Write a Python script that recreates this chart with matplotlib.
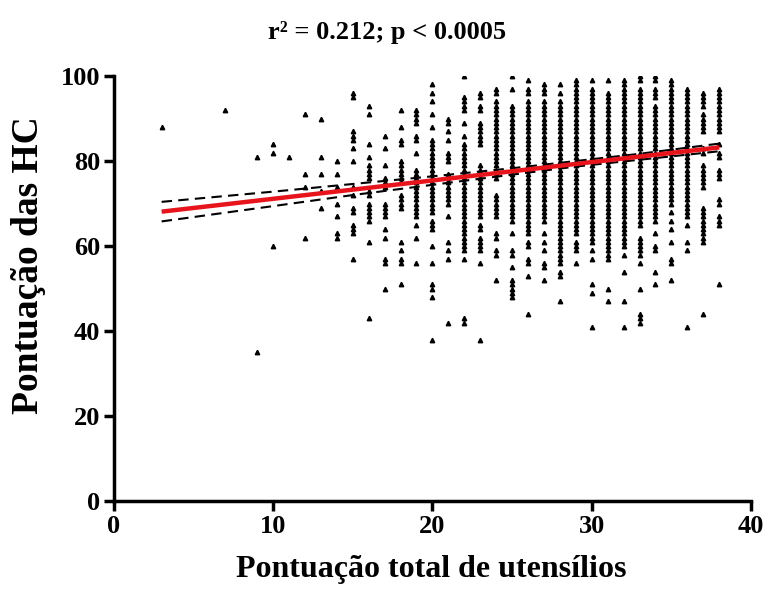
import numpy as np
import matplotlib
matplotlib.use("Agg")
import matplotlib.pyplot as plt

# Scores: one list per x value (total utensil score).
# A tuple (lo, hi) means an unbroken stack of points from lo to hi.
col_x = [3, 7, 9, 10, 11, 12, 13, 14, 15, 16, 17, 18, 19, 20, 21, 22, 23, 24,
         25, 26, 27, 28, 29, 30, 31, 32, 33, 34, 35, 36, 37, 38]
col_y = [
    [88],
    [92],
    [81, 35],
    [84, 82, 60],
    [81],
    [91, 77, 74, 62],
    [90, 81, 77, 73, 69],
    [80, 77, 74, 70, 67, 63, 62],
    [96, 95, 87, 86, 85, 83, 80, 74, 72, 69, 68, 65, 64, 63, 57],
    [93, 91, 84, 81, 79, 78, 77, 76, 73, 72, 70, 69, 68, 67, 66, 61, 43],
    [86, 83, 79, 76, 75, 74, 70, 69, 68, 67, 64, 62, 57, 56, 50],
    [92, 88, 85, 84, 80, 79, 78, 77, 76, 75, 72, 71, 70, 69, 61, 59, 57, 56, 51],
    [92, 91, 90, 89, 86, 85, 82, 78, 77, 76, 75, 74, 73, 72, 71, 70, 69, 68,
     67, 65, 62, 56],
    [98, 96, 94, 91, 88, (68, 85), 66, 65, 64, 60, 56, 51, 50, 48, 38],
    [90, 89, 87, 85, 82, 81, 80, (70, 77), 67, 61, 59, 57, 42],
    [100, 95, 94, 93, 92, 89, 86, (59, 84), 57, 43, 42],
    [96, 95, 93, 92, (84, 89), (67, 79), 65, 64, 62, 61, 60, 59, 56, 38],
    [97, 96, (76, 94), (67, 72), 63, 62, 59, 58, 52],
    [100, 97, (66, 93), 63, 59, 58, 55, 52, 51, 50, 49, 48],
    [99, 97, 96, (63, 94), 61, 60, 57, 56, 53, 44],
    [98, 97, 96, (66, 94), 63, 61, 59, 56, 55, 52],
    [98, 96, (56, 94), 54, 53, 47],
    [(63, 99), 61, 60, 59, 56],
    [99, (61, 97), 59, 57, 51, 49, 41],
    [99, (57, 96), 50, 47],
    [(60, 99), 58, 54, 47, 41],
    [100, 99, (65, 97), (58, 62), 56, 50, 44, 43, 42],
    [100, 99, 97, 96, 95, (67, 93), 66, 63, 60, 59, 54, 51],
    [(70, 99), 68, 66, 64, 61, 57, 56, 52],
    [(67, 97), 65, 61, 59, 41],
    [96, 95, 94, 93, 91, 90, 89, 88, 87, 83, 82, (74, 79), (61, 69), 44],
    [(87, 97), 84, 82, 81, 78, 77, 76, 71, 70, 67, 66, 65, 51],
]

# regression line and 95% band
fit_x = [3, 38]
fit_y = [68.1, 83.2]
band_x = [3, 10, 15, 20, 25, 29, 33, 38]
band_hi = [70.4, 72.8, 74.6, 76.4, 78.3, 80.0, 81.7, 84.1]
band_lo = [65.8, 69.4, 72.0, 74.4, 76.8, 78.7, 80.3, 82.3]

title_text = "r² = 0.212; p < 0.0005"
xlabel_text = "Pontuação total de utensílios"
ylabel_text = "Pontuação das HC"

# expand the stacks into single points
xs, ys = [], []
for x, vals in zip(col_x, col_y):
    for v in vals:
        if isinstance(v, tuple):
            for y in range(v[0], v[1] + 1):
                xs.append(x)
                ys.append(y)
        else:
            xs.append(x)
            ys.append(v)

plt.rcParams["font.family"] = ["Liberation Serif", "DejaVu Serif"]
plt.rcParams["font.weight"] = "bold"

fig = plt.figure(figsize=(7.64, 5.89), dpi=100)
ax = fig.add_axes([0.149, 0.149, 0.834, 0.722])

ax.plot(xs, ys, linestyle="none", marker="^", markersize=3.2,
        color="black", zorder=2)
ax.plot(band_x, band_hi, color="black", linestyle=(0, (5, 3)), lw=1.5, zorder=3)
ax.plot(band_x, band_lo, color="black", linestyle=(0, (5, 3)), lw=1.5, zorder=3)
ax.plot(fit_x, fit_y, color="#e8141c", lw=3.2, zorder=4, solid_capstyle="butt")

ax.set_xlim(0, 40)
ax.set_ylim(0, 100)
ax.set_xticks([0, 10, 20, 30, 40])
ax.set_yticks([0, 20, 40, 60, 80, 100])

for side in ["top", "right"]:
    ax.spines[side].set_visible(False)
for side in ["left", "bottom"]:
    ax.spines[side].set_linewidth(2.5)
ax.tick_params(axis="both", direction="out", length=7, width=2.5,
               labelsize=19, pad=3)
for lab in ax.get_xticklabels() + ax.get_yticklabels():
    lab.set_fontweight("bold")

fig.text(387 / 764, 1 - 33 / 589, title_text, ha="center", va="center",
         fontsize=19, fontweight="bold")
fig.text(431 / 764, 1 - 570 / 589, xlabel_text, ha="center", va="center",
         fontsize=23, fontweight="bold")
fig.text(29 / 764, 1 - 265 / 589, ylabel_text, ha="center", va="center",
         rotation=90, fontsize=27, fontweight="bold")

fig.savefig("out.png", dpi=100)
